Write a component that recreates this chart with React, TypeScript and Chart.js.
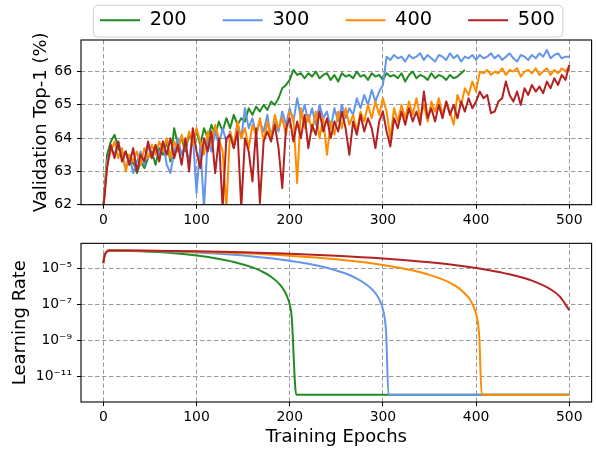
import React, { useEffect, useRef } from 'react';
import { Chart, registerables } from 'chart.js';

Chart.register(...registerables);

// ---------------- data ----------------
const seriesNames = ['200', '300', '400', '500'];
const seriesColors = ['#228B22', '#6495ED', '#FF8C00', '#B22222'];

const accEpochs = [0, 4, 8, 12, 16, 20, 24, 28, 32, 36, 40, 44, 48, 52, 56, 60, 64, 68, 72, 76, 80, 84, 88, 92, 96, 100, 104, 108, 112, 116, 120, 124, 128, 132, 136, 140, 144, 148, 152, 156, 160, 164, 168, 172, 176, 180, 184, 188, 192, 196, 200, 204, 208, 212, 216, 220, 224, 228, 232, 236, 240, 244, 248, 252, 256, 260, 264, 268, 272, 276, 280, 284, 288, 292, 296, 300, 304, 308, 312, 316, 320, 324, 328, 332, 336, 340, 344, 348, 352, 356, 360, 364, 368, 372, 376, 380, 384, 388, 392, 396, 400, 404, 408, 412, 416, 420, 424, 428, 432, 436, 440, 444, 448, 452, 456, 460, 464, 468, 472, 476, 480, 484, 488, 492, 496, 500];

const acc200 = [
  61.9, 63.5, 63.9, 64.1, 63.7, 63.5, 63.6, 63.2, 63.3, 62.95,
  63.3, 63.1, 63.4, 63.6, 63.2, 63.7, 63.5, 63.9, 63.3, 64.3,
  63.8, 64.0, 63.6, 64.1, 63.9, 64.2, 63.8, 64.3, 64.0, 64.4,
  64.1, 64.5, 64.2, 64.6, 64.3, 64.7, 64.4, 64.6, 64.5, 64.9,
  64.7, 64.95, 64.8, 65.0, 64.85, 65.1, 65.0, 65.2, 65.5, 65.6,
  65.75, 66.05, 65.9, 65.95, 65.8, 65.95, 65.85, 66.0, 65.8, 65.9,
  65.95, 65.75, 65.9, 65.7, 65.95, 65.85, 65.9, 65.8, 66.0, 65.85,
  65.9, 65.75, 65.95, 65.85, 65.9, 65.75, 65.95, 65.85, 65.9, 65.8,
  65.95, 65.7, 65.9, 66.0, 65.8, 65.9, 65.85, 65.75, 65.95, 65.8,
  65.9, 65.85, 65.75, 65.9, 65.8, 65.85, 65.95, 66.05,
];
const acc300 = [
  61.9, 63.3, 63.7, 63.5, 63.9, 63.4, 63.1, 63.5, 62.95, 63.3,
  63.6, 63.2, 63.8, 63.4, 63.7, 63.5, 63.9, 63.2, 62.95, 63.6,
  64.0, 63.5, 63.8, 63.3, 64.1, 62.35, 63.8, 61.9, 64.0, 63.6,
  64.2, 63.8, 64.3, 63.9, 64.2, 63.7, 64.4, 64.0, 64.9, 64.3,
  64.6, 64.1, 64.5, 64.2, 64.7, 64.0, 64.5, 64.2, 64.8, 64.4,
  64.9, 64.5, 65.2, 64.6, 65.0, 64.5, 64.9, 64.4, 65.0, 64.6,
  64.8, 64.3, 64.9, 64.5, 65.0, 64.6, 64.9, 64.7, 65.2, 64.9,
  65.3, 65.0, 65.45, 65.1, 65.4, 65.6, 66.45, 66.35, 66.5, 66.4,
  66.45, 66.3, 66.5, 66.4, 66.45, 66.55, 66.35, 66.5, 66.4, 66.3,
  66.5, 66.45, 66.35, 66.55, 66.4, 66.5, 66.3, 66.45, 66.4, 66.5,
  66.35, 66.5, 66.4, 66.45, 66.55, 66.4, 66.5, 66.35, 66.45, 66.55,
  66.4, 66.3, 66.5, 66.45, 66.35, 66.5, 66.4, 66.55, 66.45, 66.65,
  66.4, 66.5, 66.55, 66.4, 66.45, 66.45,
];
const acc400 = [
  61.9, 63.2, 63.6, 63.9, 63.4, 63.7, 63.0, 63.5, 63.3, 63.6,
  63.2, 63.7, 63.4, 63.8, 63.5, 63.9, 63.6, 64.0, 63.4, 63.9,
  63.6, 64.1, 63.7, 64.2, 63.8, 64.3, 63.9, 63.5, 64.2, 63.8,
  64.4, 64.0, 63.6, 61.9, 64.2, 63.8, 64.5, 64.0, 64.3, 63.7,
  64.4, 64.1, 64.6, 63.9, 64.5, 64.0, 64.7, 64.3, 64.6, 64.1,
  64.8, 64.6, 62.65, 64.9, 64.3, 64.7, 64.2, 64.8, 64.0, 64.6,
  63.5, 64.5, 64.1, 64.8, 64.3, 64.9, 64.4, 64.7, 64.2, 64.8,
  64.5, 65.0, 64.6, 65.1, 64.7, 65.2, 64.8, 64.0, 64.9, 64.5,
  65.0, 64.6, 65.1, 64.7, 65.2, 64.6, 65.0, 64.5, 65.1, 64.8,
  65.2, 64.7, 65.1, 64.8, 64.4, 65.3, 65.0, 65.5, 65.3, 65.7,
  65.4, 66.0, 65.95, 66.05, 65.9, 66.0, 65.95, 66.1, 65.9, 66.05,
  66.0, 66.1, 65.85, 66.0, 66.05, 65.95, 66.1, 65.9, 66.0, 66.1,
  65.9, 66.05, 65.95, 66.1, 66.0, 66.15,
];
const acc500 = [
  61.9, 63.1, 63.8, 63.4, 63.9, 63.3, 63.6, 63.2, 63.7, 63.0,
  63.5, 63.3, 63.9, 63.4, 63.8, 63.3, 63.9, 63.5, 64.0, 63.4,
  63.8, 63.2, 64.0, 63.0, 64.3, 63.6, 63.1, 64.0, 63.6, 64.2,
  62.95, 64.0, 61.9, 64.0, 64.1, 63.7, 64.2, 61.9, 64.0, 63.6,
  62.7, 64.3, 62.05, 63.9, 64.2, 63.9, 64.4, 63.7, 62.5, 64.3,
  64.6, 63.9, 64.5, 64.0, 64.7, 63.7, 64.4, 64.1, 64.8, 64.2,
  64.6, 64.0, 64.5, 64.2, 64.8, 64.3, 63.5, 64.5, 64.1, 64.7,
  64.2, 64.6, 64.3, 63.7, 64.5, 64.8, 64.2, 63.75, 64.6, 64.3,
  64.8, 64.4, 64.9, 64.5, 64.8, 64.4, 65.4, 64.6, 64.9, 64.5,
  65.0, 64.6, 65.1, 64.7, 65.0, 64.6, 65.1, 64.8, 65.2, 64.9,
  65.1, 65.4, 65.2, 65.3, 64.75, 64.8, 65.1, 65.2, 65.7, 65.3,
  65.1, 65.4, 65.0, 65.5, 65.3, 65.6, 65.4, 65.55, 65.35, 65.7,
  65.5, 65.8, 65.6, 65.9, 65.75, 66.2,
];

const lrEpochs200 = [0, 1, 2, 4, 6, 20, 40, 60, 80, 100, 120, 140, 160, 170, 180, 190, 195, 198, 200, 202, 207, 500];
const lr200 = [2.0e-5, 4.5e-5, 6.6e-5, 8.9e-5, 1.0e-4, 9.86e-5, 9.26e-5, 8.23e-5, 6.89e-5, 5.36e-5, 3.79e-5, 2.34e-5, 1.16e-5, 7.03e-6, 3.55e-6, 1.22e-6, 5.0e-7, 2.2e-7, 1.0e-7, 2.5e-8, 1e-12, 1e-12];

const lrEpochs300 = [0, 1, 2, 4, 6, 20, 40, 60, 80, 100, 120, 140, 160, 180, 200, 220, 240, 250, 260, 270, 280, 290, 295, 298, 300, 302, 303.5, 306, 500];
const lr300 = [2.0e-5, 4.5e-5, 6.6e-5, 8.9e-5, 1.0e-4, 9.94e-5, 9.67e-5, 9.19e-5, 8.53e-5, 7.71e-5, 6.79e-5, 5.77e-5, 4.72e-5, 3.69e-5, 2.70e-5, 1.85e-5, 1.10e-5, 7.78e-6, 5.35e-6, 3.18e-6, 1.58e-6, 5.8e-7, 2.5e-7, 1.16e-7, 5.6e-8, 1.7e-8, 2.7e-9, 1e-12, 1e-12];

const lrEpochs400 = [0, 1, 2, 4, 6, 20, 50, 100, 150, 200, 250, 300, 330, 350, 370, 380, 390, 395, 400, 402, 403.5, 406, 500];
const lr400 = [2.0e-5, 4.5e-5, 6.6e-5, 8.9e-5, 1.0e-4, 9.97e-5, 9.69e-5, 8.67e-5, 7.08e-5, 5.19e-5, 3.26e-5, 1.60e-5, 8.3e-6, 4.5e-6, 1.83e-6, 9.3e-7, 3.2e-7, 1.4e-7, 3.1e-8, 9.7e-9, 1.5e-9, 1e-12, 1e-12];

const lrEpochs500 = [0, 1, 2, 4, 6, 20, 50, 100, 150, 200, 250, 300, 350, 400, 420, 440, 460, 480, 490, 500];
const lr500 = [2.0e-5, 4.5e-5, 6.6e-5, 8.9e-5, 1.0e-4, 9.99e-5, 9.80e-5, 9.14e-5, 8.07e-5, 6.72e-5, 5.19e-5, 3.64e-5, 2.22e-5, 1.08e-5, 7.2e-6, 4.3e-6, 2.15e-6, 7.1e-7, 2.8e-7, 5.0e-8];

const epochTicks = [0, 100, 200, 300, 400, 500];
const accTicks = [62, 63, 64, 65, 66];
const lrTicks = [1e-11, 1e-9, 1e-7, 1e-5];
const lrTickLabels = ['10⁻¹¹', '10⁻⁹', '10⁻⁷', '10⁻⁵'];

const accLabel = 'Validation Top-1 (%)';
const lrLabel = 'Learning Rate';
const xLabel = 'Training Epochs';

// ---------------- styling ----------------
const FONT = "'DejaVu Sans', sans-serif";
const GRID_COLOR = '#9a9a9a';
const TICK_FONT = 13.9;
const LABEL_FONT = 18;
const LEGEND_FONT = 19.4;

const toPoints = (xs: number[], ys: number[]) => ys.map((y, i) => ({ x: xs[i], y }));

const mplPlugin: any = {
  id: 'mplStyle',
  afterLayout(chart: any, _args: any, opts: any) {
    const lg = chart.legend;
    if (!opts || !opts.legendX || !lg || !lg.options.display || !lg.lineWidths) return;
    const p = lg.options.labels.padding;
    const start = (lg.left + p + lg.right - lg.lineWidths[0]) / 2;
    const dx = opts.legendX - start;
    lg.left += dx;
    lg.right += dx;
    const dy = opts.legendTextY - (lg.top + p + opts.legendFont / 2);
    lg.top += dy;
  },
  afterDatasetsDraw(chart: any) {
    const { left, top, right, bottom } = chart.chartArea;
    const ctx = chart.ctx;
    ctx.save();
    ctx.strokeStyle = '#000';
    ctx.lineWidth = 1.1;
    ctx.strokeRect(left, top, right - left, bottom - top);
    ctx.restore();
  },
  afterDraw(chart: any, _args: any, opts: any) {
    const lg = chart.legend;
    if (!opts || !opts.legendX || !lg || !lg.options.display || !lg.legendHitBoxes || !lg.legendHitBoxes.length) return;
    const hbs = lg.legendHitBoxes;
    const last = hbs[hbs.length - 1];
    const x0 = hbs[0].left - 6.7;
    const x1 = last.left + last.width + 8;
    const y0 = opts.legendTextY - 15;
    const y1 = opts.legendTextY + 16.7;
    const r = 4;
    const ctx = chart.ctx;
    ctx.save();
    ctx.strokeStyle = '#d0d0d0';
    ctx.lineWidth = 1;
    ctx.beginPath();
    ctx.moveTo(x0 + r, y0);
    ctx.arcTo(x1, y0, x1, y1, r);
    ctx.arcTo(x1, y1, x0, y1, r);
    ctx.arcTo(x0, y1, x0, y0, r);
    ctx.arcTo(x0, y0, x1, y0, r);
    ctx.closePath();
    ctx.stroke();
    ctx.restore();
  },
};

function xScale(height: number, withTitle: boolean): any {
  return {
    type: 'linear',
    min: -24,
    max: 524,
    afterBuildTicks: (s: any) => { s.ticks = epochTicks.map((v) => ({ value: v })); },
    afterFit: (s: any) => { s.height = height; },
    ticks: { color: '#000', font: { size: TICK_FONT, family: FONT }, padding: 3, autoSkip: false, maxRotation: 0, callback: (v: any) => String(v) },
    grid: { color: GRID_COLOR, lineWidth: 1, tickLength: 4, tickColor: '#000', tickWidth: 1, tickBorderDash: [] },
    border: { display: false, dash: [4.5, 2.5] },
    title: withTitle
      ? { display: true, text: xLabel, color: '#000', font: { size: LABEL_FONT, family: FONT }, padding: { top: 0, bottom: 0.9 } }
      : { display: false },
  };
}

export default function App() {
  const topRef = useRef<HTMLCanvasElement>(null);
  const botRef = useRef<HTMLCanvasElement>(null);

  useEffect(() => {
    Chart.defaults.font.family = FONT;
    Chart.defaults.color = '#000';

    const accSeries = [acc200, acc300, acc400, acc500];
    const topChart = new Chart(topRef.current as HTMLCanvasElement, {
      type: 'line',
      data: {
        datasets: accSeries.map((vals, i) => ({
          label: seriesNames[i],
          data: toPoints(accEpochs, vals),
          borderColor: seriesColors[i],
          backgroundColor: seriesColors[i],
          borderWidth: 2,
          pointRadius: 0,
          order: 3 - i,
          clip: 0,
          borderJoinStyle: 'round',
        })),
      },
      options: {
        responsive: false,
        animation: false,
        events: [],
        layout: { padding: { left: 0, right: 4.4, top: 10, bottom: 0 } },
        scales: {
          x: xScale(25.3, false),
          y: {
            type: 'linear',
            min: 62,
            max: 66.95,
            afterBuildTicks: (s: any) => { s.ticks = accTicks.map((v) => ({ value: v })); },
            afterFit: (s: any) => { s.width = 81; },
            ticks: { color: '#000', font: { size: TICK_FONT, family: FONT }, padding: 5, autoSkip: false, callback: (v: any) => String(v) },
            grid: { color: GRID_COLOR, lineWidth: 1, tickLength: 4, tickColor: '#000', tickWidth: 1, tickBorderDash: [] },
            border: { display: false, dash: [4.5, 2.5] },
            title: { display: true, text: accLabel, color: '#000', font: { size: LABEL_FONT, family: FONT }, padding: { top: 30.2, bottom: 0 } },
          },
        },
        plugins: {
          tooltip: { enabled: false },
          legend: {
            display: true,
            position: 'top',
            maxHeight: 30,
            labels: {
              color: '#000',
              font: { size: LEGEND_FONT, family: FONT },
              boxWidth: 40,
              boxHeight: 2,
              padding: 36,
              sort: (a: any, b: any) => a.datasetIndex - b.datasetIndex,
              generateLabels: (chart: any) =>
                (Chart.defaults.plugins.legend.labels.generateLabels as any)(chart).map((l: any) => ({ ...l, lineWidth: 0 })),
            },
          },
          mplStyle: { legendX: 100, legendTextY: 20.3, legendFont: LEGEND_FONT },
        } as any,
      },
      plugins: [mplPlugin],
    } as any);

    const lrX = [lrEpochs200, lrEpochs300, lrEpochs400, lrEpochs500];
    const lrY = [lr200, lr300, lr400, lr500];
    const botChart = new Chart(botRef.current as HTMLCanvasElement, {
      type: 'line',
      data: {
        datasets: lrY.map((vals, i) => ({
          label: seriesNames[i],
          data: toPoints(lrX[i], vals),
          borderColor: seriesColors[i],
          backgroundColor: seriesColors[i],
          borderWidth: 2,
          pointRadius: 0,
          order: 3 - i,
          clip: 0,
          cubicInterpolationMode: 'monotone',
          borderJoinStyle: 'round',
        })),
      },
      options: {
        responsive: false,
        animation: false,
        events: [],
        layout: { padding: { left: 0, right: 4.4, top: 7, bottom: 0 } },
        scales: {
          x: xScale(47, true),
          y: {
            type: 'logarithmic',
            min: Math.pow(10, -12.4),
            max: Math.pow(10, -3.6),
            afterBuildTicks: (s: any) => { s.ticks = lrTicks.map((v) => ({ value: v })); },
            afterFit: (s: any) => { s.width = 81; },
            ticks: {
              color: '#000',
              font: { size: TICK_FONT, family: FONT },
              padding: 5,
              autoSkip: false,
              callback: (v: any) => {
                const k = lrTicks.indexOf(v);
                return k >= 0 ? lrTickLabels[k] : '';
              },
            },
            grid: { color: GRID_COLOR, lineWidth: 1, tickLength: 4, tickColor: '#000', tickWidth: 1, tickBorderDash: [] },
            border: { display: false, dash: [4.5, 2.5] },
            title: { display: true, text: lrLabel, color: '#000', font: { size: LABEL_FONT, family: FONT }, padding: { top: 9.2, bottom: 0 } },
          },
        },
        plugins: {
          tooltip: { enabled: false },
          legend: { display: false },
          mplStyle: {},
        } as any,
      },
      plugins: [mplPlugin],
    } as any);

    return () => {
      topChart.destroy();
      botChart.destroy();
    };
  }, []);

  return (
    <div style={{ position: 'absolute', left: 0, top: 0, width: 596, height: 449, background: '#fff' }}>
      <canvas ref={topRef} width={596} height={230} style={{ position: 'absolute', left: 0, top: 0 }} />
      <canvas ref={botRef} width={596} height={219} style={{ position: 'absolute', left: 0, top: 230 }} />
    </div>
  );
}
